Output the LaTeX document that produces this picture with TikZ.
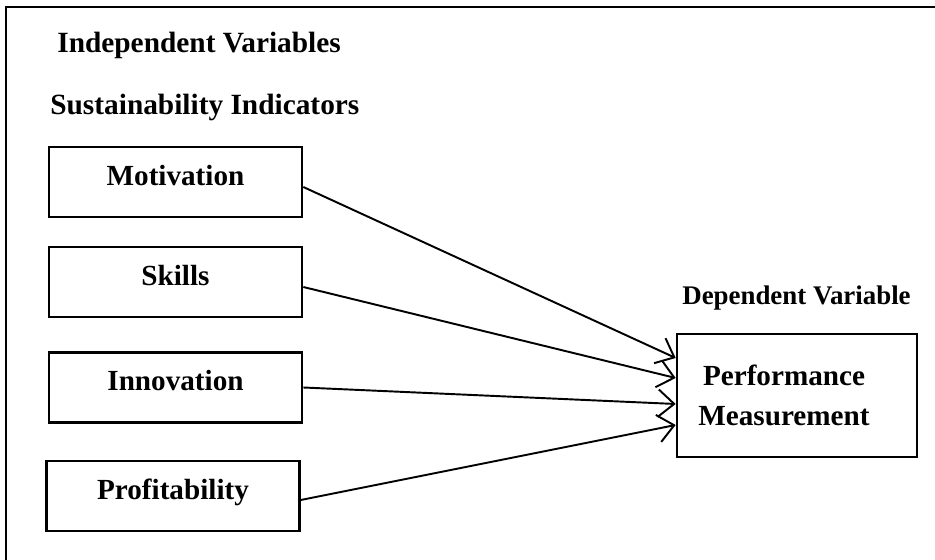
\documentclass[tikz,border=0pt]{standalone}
\usepackage{fontspec}
\setmainfont{Liberation Serif}
\usetikzlibrary{arrows.meta}

\begin{document}
\begin{tikzpicture}[>={Straight Barb[length=0.32cm,width=0.55cm]},
  varbox/.style={draw,line width=1.5pt,minimum width=5.06cm,minimum height=1.4cm,
    text height=0.7em,text depth=0.35em,font=\fontsize{16.6}{19}\selectfont\bfseries},
  head/.style={anchor=base west,inner sep=0pt,font=\fontsize{16.7}{19}\selectfont\bfseries}]
  \useasboundingbox (0,0) rectangle (18.7,11.2);
  % frame
  \draw[line width=1.1pt] (0.12,0) -- (0.12,11.06) -- (18.7,11.06);
  % headings
  \node[head] (indep) at (1.14,10.14) {Independent Variables};
  \node[head] (sust) at (1.0,8.9) {Sustainability Indicators};
  \node[head,font=\fontsize{15.3}{18}\selectfont\bfseries] (dep) at (13.64,5.1) {Dependent Variable};
  % indicator boxes
  \node[varbox] (mot) at (3.51,7.56) {Motivation};
  \node[varbox] (skl) at (3.51,5.56) {Skills};
  \node[varbox] (inn) at (3.51,3.45) {Innovation};
  \node[varbox] (prof) at (3.46,1.28) {Profitability};
  % dependent box
  \node[draw,line width=1.5pt,minimum width=4.8cm,minimum height=2.46cm] (perf) at (15.94,3.29) {};
  \node[align=center,font=\fontsize{16.6}{22.8}\selectfont\bfseries] (perflbl)
    at ([xshift=-0.26cm]perf.center) {Performance\\Measurement};
  % links
  \draw[->,line width=1.1pt] ([yshift=-0.1cm]mot.east) -- ([yshift=0.75cm]perf.west);
  \draw[->,line width=1.1pt] ([yshift=-0.1cm]skl.east) -- ([yshift=0.35cm]perf.west);
  \draw[->,line width=1.1pt] (inn.east) -- ([yshift=-0.17cm]perf.west);
  \draw[->,line width=1.1pt] ([yshift=-0.08cm]prof.east) -- ([yshift=-0.59cm]perf.west);
\end{tikzpicture}
\end{document}
